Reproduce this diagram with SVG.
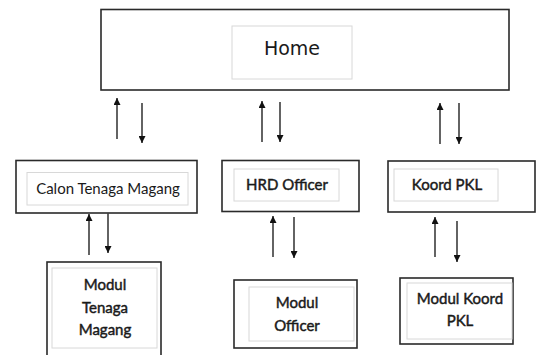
<svg xmlns="http://www.w3.org/2000/svg" width="537" height="355" viewBox="0 0 537 355">
<defs>
<marker id="ah" viewBox="0 0 10 10" refX="10" refY="5" markerWidth="8" markerHeight="7" markerUnits="userSpaceOnUse" orient="auto">
<path d="M0,0 L10,5 L0,10 z" fill="#111"/>
</marker>
</defs>
<style>
.outer{fill:#fff;stroke:#2a2a2a;stroke-width:1.6}
.inner{fill:#fff;stroke:#d8d8d8;stroke-width:1}
.lbl{font-family:Lato,"Liberation Sans",sans-serif;font-size:15px;fill:#1a1a1a;text-anchor:middle}
.b{stroke:#1a1a1a;stroke-width:0.45}
.home{font-family:"DejaVu Sans",sans-serif;font-size:19px;fill:#1a1a1a;text-anchor:middle}
.ar{stroke:#222;stroke-width:1.4;fill:none;marker-end:url(#ah)}
</style>
<rect width="537" height="355" fill="#fff"/>
<g id="home">
<rect class="outer" x="101" y="9.5" width="408" height="80.5"/>
<rect class="inner" x="232" y="26" width="120" height="53"/>
<text class="home" x="292" y="55">Home</text>
</g>
<g id="calon">
<rect class="outer" x="16" y="160.5" width="181" height="52.5"/>
<rect class="inner" x="27" y="172.5" width="161" height="32.5"/>
<text class="lbl" x="108" y="193.5">Calon Tenaga Magang</text>
</g>
<g id="hrd">
<rect class="outer" x="222" y="160.5" width="137" height="51"/>
<rect class="inner" x="234" y="169" width="105" height="32"/>
<text class="lbl b" x="287" y="189.5">HRD Officer</text>
</g>
<g id="koord">
<rect class="outer" x="388" y="161" width="147" height="51"/>
<rect class="inner" x="394" y="169" width="104" height="32"/>
<text class="lbl b" x="447" y="189.5">Koord PKL</text>
</g>
<g id="modul-tenaga">
<rect class="outer" x="47" y="262" width="114" height="100"/>
<rect class="inner" x="52" y="268" width="105" height="80"/>
<text class="lbl b" x="105" y="290">Modul</text>
<text class="lbl b" x="105" y="313">Tenaga</text>
<text class="lbl b" x="105" y="335">Magang</text>
</g>
<g id="modul-officer">
<rect class="outer" x="234" y="280" width="123" height="68"/>
<rect class="inner" x="249" y="287" width="105" height="54"/>
<text class="lbl b" x="297" y="308">Modul</text>
<text class="lbl b" x="297" y="331">Officer</text>
</g>
<g id="modul-koord">
<rect class="outer" x="400" y="278" width="113" height="66"/>
<rect class="inner" x="407" y="283" width="105" height="56"/>
<text class="lbl b" x="460" y="304">Modul Koord</text>
<text class="lbl b" x="460" y="326">PKL</text>
</g>
<g id="connectors">
<line class="ar" x1="117" y1="139" x2="117" y2="98"/>
<line class="ar" x1="142" y1="103" x2="142" y2="143"/>
<line class="ar" x1="262" y1="142" x2="262" y2="101"/>
<line class="ar" x1="280" y1="102" x2="280" y2="142"/>
<line class="ar" x1="440" y1="144" x2="440" y2="103"/>
<line class="ar" x1="459" y1="103" x2="459" y2="144"/>
<line class="ar" x1="89" y1="255" x2="89" y2="214"/>
<line class="ar" x1="108" y1="213.5" x2="108" y2="253"/>
<line class="ar" x1="273" y1="257" x2="273" y2="216"/>
<line class="ar" x1="294" y1="217" x2="294" y2="258"/>
<line class="ar" x1="435" y1="257" x2="435" y2="217"/>
<line class="ar" x1="457" y1="221" x2="457" y2="262"/>
</g>
</svg>
